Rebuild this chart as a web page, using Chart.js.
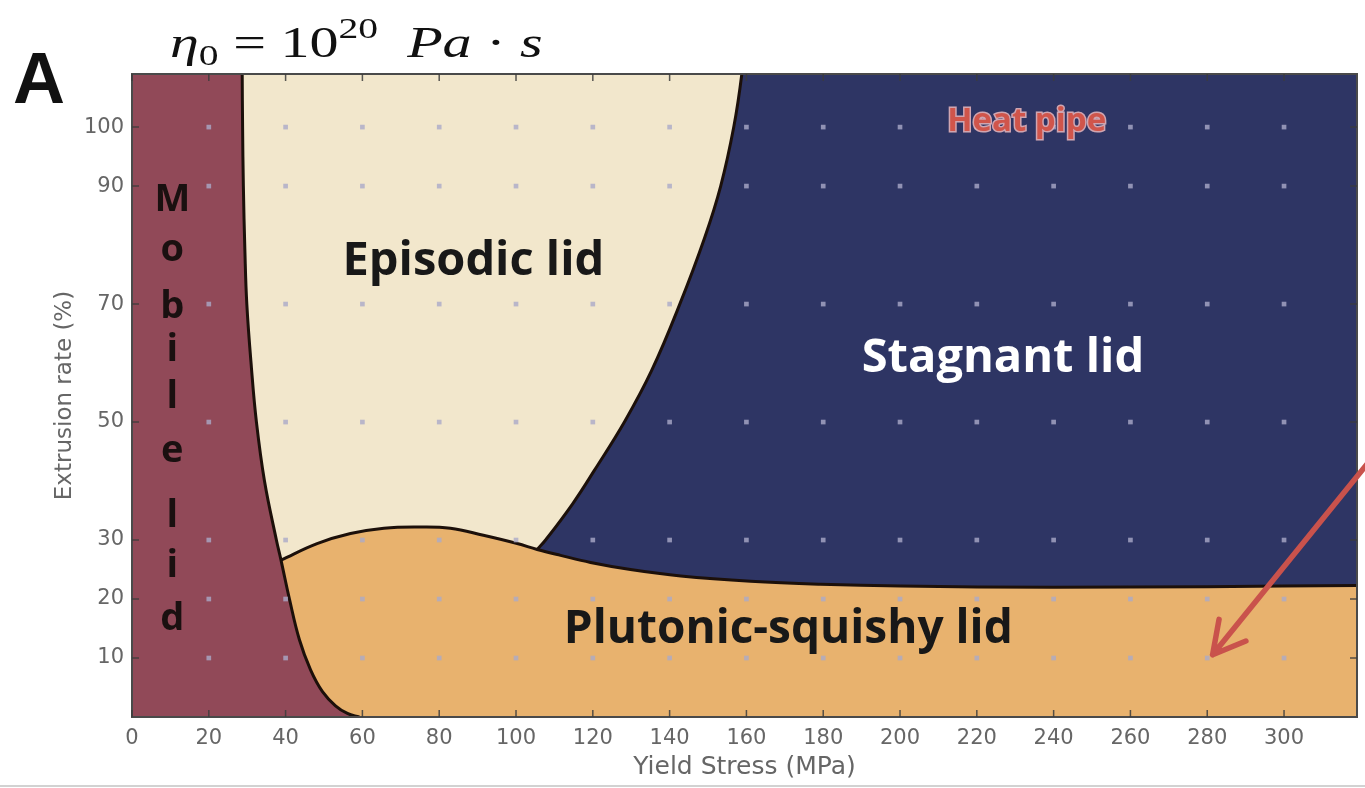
<!DOCTYPE html>
<html>
<head>
<meta charset="utf-8">
<script src="https://cdn.jsdelivr.net/npm/chart.js@4.4.0/dist/chart.umd.min.js"></script>
<style>
  html, body { margin: 0; padding: 0; background: #fff; }
</style>
</head>
<body>
<canvas id="myChart" width="1365" height="788"></canvas>
<script>
// axis ticks
var xTicks = [0, 20, 40, 60, 80, 100, 120, 140, 160, 180, 200, 220, 240, 260, 280, 300];
var yTicks = [10, 20, 30, 50, 70, 90, 100];

// model runs (grey squares)
var gridX = [20, 40, 60, 80, 100, 120, 140, 160, 180, 200, 220, 240, 260, 280, 300];
var gridY = [10, 20, 30, 50, 70, 90, 100];

// regime boundaries (first/last points run outside the axes)
var mobileX = [-10, 28.6, 28.7, 28.8, 29.0, 29.4, 29.9, 31.1, 32.4, 34.5, 37.6, 38.8, 41.0, 43.6, 46.5, 49.6, 53.0, 56.1, 59.2];
var mobileY = [125, 125, 109, 100, 90, 79, 70, 59.2, 50, 40, 30, 26.6, 20, 13.1, 8.0, 4.3, 1.9, 0.6, 0];

var plutonicX = [38.8, 48.2, 56.9, 65.6, 74.3, 82.9, 91.5, 100.3, 105.5, 111.6, 119.4, 129.8, 142.9, 161.1, 179.3, 200.2, 240, 280, 319, 330];
var plutonicY = [26.6, 29.4, 31.1, 32.0, 32.2, 32.0, 30.8, 29.4, 28.4, 27.4, 26.2, 25.0, 23.9, 23.0, 22.5, 22.2, 22.0, 22.1, 22.3, 22.3];

var episodicX = [105.5, 107.7, 114.7, 120.4, 128.3, 135.3, 142.6, 149.1, 153.3, 156.7, 158.8, 160.5, 330];
var episodicY = [28.4, 30.0, 36.1, 41.8, 50.1, 58.7, 69.9, 81.2, 90.0, 100.0, 109, 120, 120];

var colMobile = '#914958';
var colEpisodic = '#f2e7cc';
var colStagnant = '#2e3564';
var colPlutonic = '#e8b26e';
var colLine = '#1c100a';

function pts(xs, ys) {
  return xs.map(function (x, i) { return { x: x, y: ys[i] }; });
}

var dots = [];
gridY.forEach(function (y) {
  gridX.forEach(function (x) { dots.push({ x: x, y: y }); });
});

function region(data, fill, color, border, order) {
  return {
    type: 'line',
    data: data,
    fill: fill,
    backgroundColor: color,
    borderColor: border ? colLine : 'rgba(0,0,0,0)',
    borderWidth: border ? 3 : 0,
    pointRadius: 0,
    tension: 0.4,
    capBezierPoints: false,
    order: order
  };
}

var decor = {
  id: 'decor',
  afterDatasetsDraw: function (chart) {
    var ctx = chart.ctx, a = chart.chartArea;
    var xs = chart.scales.x, ys = chart.scales.y;
    function px(v) { return xs.getPixelForValue(v); }
    function py(v) { return ys.getPixelForValue(v); }

    ctx.save();
    // frame + inward ticks
    ctx.strokeStyle = '#4a4a4a';
    ctx.lineWidth = 2;
    ctx.strokeRect(a.left, a.top, a.right - a.left, a.bottom - a.top);
    ctx.lineWidth = 1.5;
    ctx.strokeStyle = 'rgba(60,60,60,0.85)';
    ctx.beginPath();
    xTicks.forEach(function (v) {
      var x = px(v);
      ctx.moveTo(x, a.bottom); ctx.lineTo(x, a.bottom - 7);
      ctx.moveTo(x, a.top); ctx.lineTo(x, a.top + 7);
    });
    yTicks.forEach(function (v) {
      var y = py(v);
      ctx.moveTo(a.left, y); ctx.lineTo(a.left + 7, y);
      ctx.moveTo(a.right, y); ctx.lineTo(a.right - 7, y);
    });
    ctx.stroke();

    // region names
    ctx.textAlign = 'center';
    ctx.textBaseline = 'alphabetic';
    ctx.font = 'bold 47px "Open Sans"';
    ctx.fillStyle = '#181818';
    ctx.fillText('Episodic lid', px(88.9), py(75.0));
    ctx.font = 'bold 46px "Open Sans"';
    ctx.fillText('Plutonic-squishy lid', px(170.9), py(12.6));
    ctx.font = 'bold 47px "Open Sans"';
    ctx.fillStyle = '#ffffff';
    ctx.fillText('Stagnant lid', px(226.8), py(58.4));

    ctx.font = 'bold 38px "Open Sans"';
    ctx.fillStyle = '#1a1010';
    [['M', 85.8], ['o', 77.3], ['b', 67.7], ['i', 60.4], ['l', 52.3],
     ['e', 43.2], ['l', 32.2], ['i', 23.7], ['d', 14.8]].forEach(function (c) {
      ctx.fillText(c[0], px(10.5), py(c[1]));
    });

    ctx.font = 'bold 33px "Open Sans"';
    ctx.lineWidth = 3;
    ctx.strokeStyle = 'rgba(235,185,190,0.85)';
    ctx.strokeText('Heat pipe', px(233), py(99.4));
    ctx.fillStyle = '#d0554b';
    ctx.fillText('Heat pipe', px(233), py(99.4));

    // arrow pointing at the 280 MPa / 10 % run
    var tx = px(281.4), ty = py(10.55), sx = px(322), sy = py(43.2);
    var ang = Math.atan2(ty - sy, tx - sx);
    ctx.strokeStyle = '#c9524c';
    ctx.lineWidth = 5.5;
    ctx.lineCap = 'round';
    ctx.lineJoin = 'round';
    ctx.beginPath();
    ctx.moveTo(sx, sy); ctx.lineTo(tx, ty);
    ctx.moveTo(tx - 36 * Math.cos(ang - 0.5), ty - 36 * Math.sin(ang - 0.5));
    ctx.lineTo(tx, ty);
    ctx.lineTo(tx - 36 * Math.cos(ang + 0.5), ty - 36 * Math.sin(ang + 0.5));
    ctx.stroke();
    ctx.restore();
  },
  afterDraw: function (chart) {
    var ctx = chart.ctx;
    ctx.save();
    ctx.fillStyle = '#111';
    ctx.textAlign = 'left';
    ctx.textBaseline = 'alphabetic';
    ctx.font = 'bold 72px "Liberation Sans"';
    ctx.fillText('A', 13, 103);

    // eta_0 = 10^20 Pa.s (LaTeX-like, set a little wide)
    var parts = [
      ['\u03b7', 'italic 44px "Liberation Serif"', 0],
      ['0', '30px "Liberation Serif"', 8],
      [' = ', '44px "Liberation Serif"', 0],
      ['10', '44px "Liberation Serif"', 0],
      ['20', '30px "Liberation Serif"', -19],
      ['  Pa', 'italic 44px "Liberation Serif"', 0],
      [' \u00b7 ', '44px "Liberation Serif"', 0],
      ['s', 'italic 44px "Liberation Serif"', 0]
    ];
    ctx.translate(170, 0);
    ctx.scale(1.32, 1);
    var x = 0;
    parts.forEach(function (p) {
      ctx.font = p[1];
      ctx.fillText(p[0], x, 57 + p[2]);
      x += ctx.measureText(p[0]).width;
    });
    ctx.setTransform(1, 0, 0, 1, 0, 0);

    ctx.fillStyle = '#d2d2d2';
    ctx.fillRect(0, 785, chart.width, 2);
    ctx.restore();
  }
};

var ctx = document.getElementById('myChart').getContext('2d');
var chart = new Chart(ctx, {
  type: 'line',
  data: {
    datasets: [
      {
        type: 'scatter',
        data: dots,
        pointStyle: 'rect',
        pointRadius: 3.3,
        pointBackgroundColor: 'rgba(170,170,200,0.8)',
        pointBorderWidth: 0,
        order: 0
      },
      region(pts(mobileX, mobileY), 'start', colMobile, true, 1),
      region(pts(plutonicX, plutonicY), 'start', colPlutonic, true, 2),
      region(pts(episodicX, episodicY), 'start', colStagnant, true, 3),
      region(pts(plutonicX, plutonicY), 'end', colEpisodic, false, 4),
      region(pts(mobileX, mobileY), 'end', colEpisodic, false, 5)
    ]
  },
  options: {
    responsive: false,
    animation: false,
    events: [],
    layout: { padding: { left: 0, right: 8, top: 74, bottom: 0 } },
    plugins: { legend: { display: false }, tooltip: { enabled: false } },
    scales: {
      x: {
        type: 'linear', min: 0, max: 319,
        grid: { display: false, drawTicks: false },
        border: { display: false },
        afterBuildTicks: function (s) { s.ticks = xTicks.map(function (v) { return { value: v }; }); },
        afterFit: function (s) { s.height = 71; },
        ticks: { font: { family: 'DejaVu Sans', size: 21 }, color: '#666', padding: 9, maxRotation: 0, autoSkip: false },
        title: { display: true, text: 'Yield Stress (MPa)', color: '#666',
                 font: { family: 'DejaVu Sans', size: 25 }, padding: { top: 0, bottom: 6 } }
      },
      y: {
        type: 'linear', min: 0, max: 109,
        grid: { display: false, drawTicks: false },
        border: { display: false },
        afterBuildTicks: function (s) { s.ticks = yTicks.map(function (v) { return { value: v }; }); },
        afterFit: function (s) { s.width = 132; },
        ticks: { font: { family: 'DejaVu Sans', size: 21 }, color: '#666', padding: 8, autoSkip: false },
        title: { display: true, text: 'Extrusion rate (%)', color: '#666',
                 font: { family: 'DejaVu Sans', size: 23 }, padding: { top: 51, bottom: 0 } }
      }
    }
  },
  plugins: [decor]
});
</script>
</body>
</html>
